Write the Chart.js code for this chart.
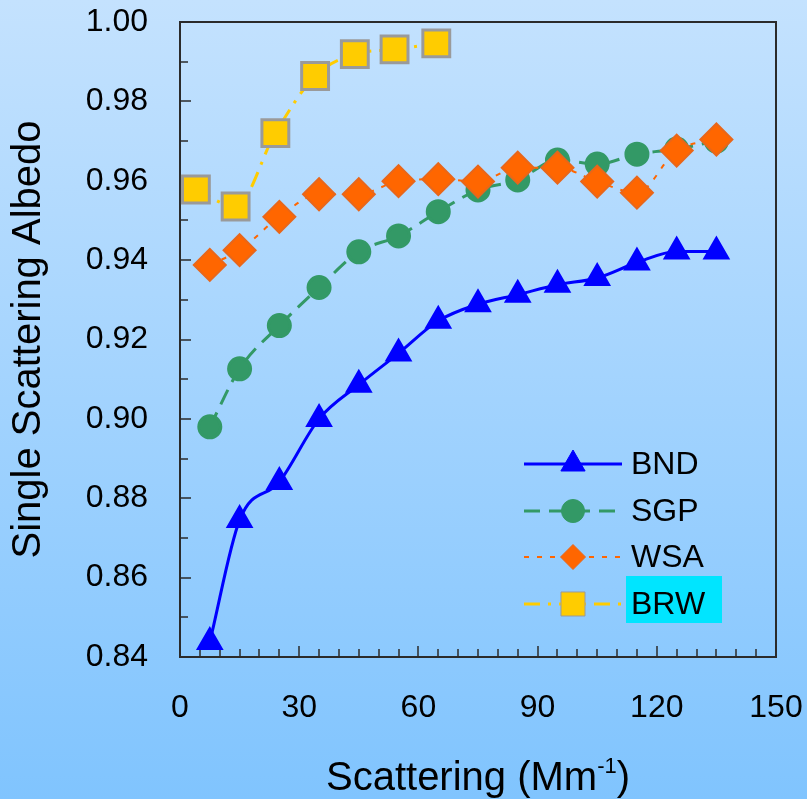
<!DOCTYPE html>
<html>
<head>
<meta charset="utf-8">
<title>Single Scattering Albedo</title>
<script src="https://cdn.jsdelivr.net/npm/chart.js@4.4.1/dist/chart.umd.min.js"></script>
<style>
  html, body { margin: 0; padding: 0; }
  body { width: 807px; height: 799px; overflow: hidden; background: linear-gradient(#c4e2fe, #80c4fe); }
  canvas { display: block; }
</style>
</head>
<body>
<canvas id="albedoChart" width="807" height="799"></canvas>
<script>
// scattering bins (Mm-1)
const scattering = [7.5, 15, 25, 35, 45, 55, 65, 75, 85, 95, 105, 115, 125, 135]
const scatteringBrw = [4, 14, 24, 34, 44, 54, 64.5]

const bnd = [0.8438, 0.8745, 0.8841, 0.9000, 0.9086, 0.9165, 0.9247, 0.9289, 0.9313, 0.9338, 0.9355, 0.9394, 0.9422, 0.9422]
const sgp = [0.8980, 0.9126, 0.9235, 0.9331, 0.9421, 0.9461, 0.9522, 0.9577, 0.9602, 0.9652, 0.9642, 0.9667, 0.9680, 0.9700]
const wsa = [0.9388, 0.9425, 0.9509, 0.9566, 0.9566, 0.9599, 0.9604, 0.9598, 0.9633, 0.9633, 0.9598, 0.9570, 0.9676, 0.9704]
const brw = [0.9578, 0.9535, 0.9720, 0.9864, 0.9919, 0.9931, 0.9946]

const siteNames = ["BND", "SGP", "WSA", "BRW"]
const yTicks = [0.84, 0.86, 0.88, 0.90, 0.92, 0.94, 0.96, 0.98, 1.00]
const xTicks = [0, 30, 60, 90, 120, 150]

const font = "'Liberation Sans', Arial, sans-serif"

const toPoints = (xs, ys) => xs.map((x, i) => ({ x: x, y: ys[i] }))

const datasets = [
    {
        label: siteNames[0],
        data: toPoints(scattering, bnd),
        borderColor: "#0000ff",
        borderWidth: 3,
        pointStyle: "triangle",
        pointRadius: 13,
        pointBackgroundColor: "#0000ff",
        pointBorderColor: "#0000ff",
        order: 3,
        legendRadius: 14
    },
    {
        label: siteNames[1],
        data: toPoints(scattering, sgp),
        borderColor: "#339966",
        borderWidth: 3,
        borderDash: [16, 9],
        pointStyle: "circle",
        pointRadius: 11,
        pointBackgroundColor: "#339966",
        pointBorderColor: "#339966",
        order: 2,
        legendRadius: 11.5
    },
    {
        label: siteNames[2],
        data: toPoints(scattering, wsa),
        borderColor: "#ff6600",
        borderWidth: 2,
        borderDash: [5, 8],
        pointStyle: "rectRot",
        pointRadius: 16,
        pointBackgroundColor: "#ff6600",
        pointBorderColor: "#e8661a",
        order: 1,
        legendRadius: 12.5
    },
    {
        label: siteNames[3],
        data: toPoints(scatteringBrw, brw),
        borderColor: "#ffcc00",
        borderWidth: 3,
        borderDash: [16, 8, 3, 8],
        pointStyle: "rect",
        pointRadius: 19,
        pointBackgroundColor: "#ffcc00",
        pointBorderColor: "#9a9a9a",
        order: 0,
        legendRadius: 17
    }
]

const decorations = {
    id: "decorations",
    beforeDraw: (chart) => {
        const ctx = chart.ctx
        const grad = ctx.createLinearGradient(0, 0, 0, chart.height)
        grad.addColorStop(0, "#c4e2fe")
        grad.addColorStop(1, "#80c4fe")
        ctx.save()
        ctx.fillStyle = grad
        ctx.fillRect(0, 0, chart.width, chart.height)
        ctx.restore()
    },
    beforeDatasetsDraw: (chart) => {
        const { ctx, chartArea: a, scales: { x, y } } = chart
        ctx.save()
        ctx.strokeStyle = "#2b2b2b"
        ctx.lineWidth = 2
        ctx.strokeRect(a.left, a.top, a.right - a.left, a.bottom - a.top)

        // inward tick marks
        ctx.lineWidth = 1.5
        ctx.beginPath()
        for (let v = 0; v <= 150; v += 5) {
            const px = Math.round(x.getPixelForValue(v))
            const len = v % 30 === 0 ? 11 : 8
            ctx.moveTo(px, a.bottom)
            ctx.lineTo(px, a.bottom - len)
        }
        for (let i = 0; i <= 16; i++) {
            const py = Math.round(y.getPixelForValue(0.84 + i * 0.01))
            const len = i % 2 === 0 ? 11 : 8
            ctx.moveTo(a.left, py)
            ctx.lineTo(a.left + len, py)
        }
        ctx.stroke()
        ctx.restore()
    },
    afterDraw: (chart) => {
        const { ctx, chartArea: a } = chart
        ctx.save()

        // x axis title with superscript
        const mainFont = "40px " + font
        const supFont = "22px " + font
        ctx.fillStyle = "#000"
        ctx.textBaseline = "alphabetic"
        ctx.font = mainFont
        const w1 = ctx.measureText("Scattering (Mm").width
        const w3 = ctx.measureText(")").width
        ctx.font = supFont
        const w2 = ctx.measureText("-1").width
        let tx = (a.left + a.right) / 2 - (w1 + w2 + w3) / 2
        ctx.font = mainFont
        ctx.fillText("Scattering (Mm", tx, 790)
        tx += w1
        ctx.font = supFont
        ctx.fillText("-1", tx, 773)
        tx += w2
        ctx.font = mainFont
        ctx.fillText(")", tx, 790)

        // legend
        const rows = [464, 511, 557, 604]
        const lineL = 524, lineR = 622, markX = 573, textX = 631
        chart.data.datasets.forEach((ds, i) => {
            const ry = rows[i]
            if (i === 3) {
                ctx.fillStyle = "#00e5ff"
                ctx.fillRect(626, 576, 96, 47)
            }
            ctx.strokeStyle = ds.borderColor
            ctx.lineWidth = ds.borderWidth
            ctx.setLineDash(ds.borderDash || [])
            ctx.beginPath()
            ctx.moveTo(lineL, ry)
            ctx.lineTo(lineR, ry)
            ctx.stroke()
            ctx.setLineDash([])
            ctx.fillStyle = ds.pointBackgroundColor
            ctx.strokeStyle = ds.pointBorderColor
            ctx.lineWidth = 1
            Chart.helpers.drawPoint(ctx, { pointStyle: ds.pointStyle, radius: ds.legendRadius, rotation: 0, borderWidth: 1 }, markX, ry)
            ctx.fillStyle = "#000"
            ctx.font = "32px " + font
            ctx.textBaseline = "middle"
            ctx.textAlign = "left"
            ctx.fillText(ds.label, textX, ry + 1)
        })
        ctx.restore()
    }
}

const chart = new Chart(document.getElementById("albedoChart"), {
    type: "line",
    data: { datasets: datasets },
    options: {
        responsive: false,
        animation: false,
        devicePixelRatio: 1,
        layout: { padding: { top: 22, right: 31, left: 0, bottom: 0 } },
        elements: {
            line: { tension: 0.4, cubicInterpolationMode: "monotone", fill: false },
            point: { borderWidth: 1, hoverRadius: 0 }
        },
        datasets: { line: { clip: false } },
        plugins: {
            legend: { display: false },
            tooltip: { enabled: false }
        },
        scales: {
            x: {
                type: "linear",
                min: 0,
                max: 150,
                afterFit: (scale) => { scale.height = 142 },
                afterBuildTicks: (scale) => { scale.ticks = xTicks.map(v => ({ value: v })) },
                // tick marks are drawn by the plugin; tickLength only spaces the labels
                grid: { display: false, drawTicks: true, tickLength: 32, color: "rgba(0,0,0,0)" },
                border: { display: false },
                ticks: {
                    padding: 0,
                    color: "#000",
                    maxRotation: 0,
                    font: { family: font, size: 32 },
                    callback: (v) => String(v)
                }
            },
            y: {
                type: "linear",
                min: 0.84,
                max: 1.0,
                afterFit: (scale) => { scale.width = 180 },
                afterBuildTicks: (scale) => { scale.ticks = yTicks.map(v => ({ value: v })) },
                grid: { display: false, drawTicks: true, tickLength: 32, color: "rgba(0,0,0,0)" },
                border: { display: false },
                title: {
                    display: true,
                    text: "Single Scattering Albedo",
                    color: "#000",
                    font: { family: font, size: 40 },
                    padding: { top: 5, bottom: 0 }
                },
                ticks: {
                    padding: 0,
                    color: "#000",
                    font: { family: font, size: 32 },
                    callback: (v) => Number(v).toFixed(2)
                }
            }
        }
    },
    plugins: [decorations]
})
</script>
</body>
</html>
